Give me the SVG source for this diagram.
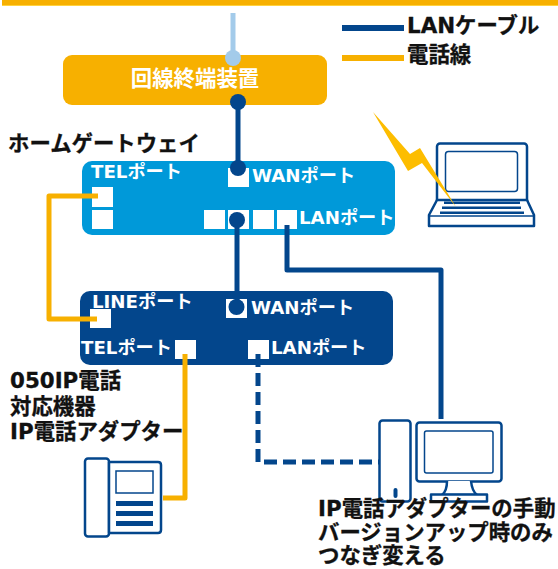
<svg xmlns="http://www.w3.org/2000/svg" width="558" height="569" viewBox="0 0 558 569">
<style>
text{font-family:"DejaVu Sans","Noto Sans CJK JP",sans-serif;font-weight:700}
.k{fill:#111;stroke:#111;stroke-width:.3;font-size:21.4px}
.w{fill:#fff;font-size:18.200px}
.p{fill:#fff}
.nav{fill:none;stroke:#03468c;stroke-width:5;stroke-linejoin:round}
.or{fill:none;stroke:#f7b000;stroke-width:5;stroke-linejoin:round}
.ic{fill:#fff;stroke:#03468c;stroke-width:2.5;stroke-linejoin:round}
.ic2{fill:#fff;stroke:#03468c;stroke-width:1.5}
.bar{fill:#03468c}
</style>
<rect id="top-bar" x="2" y="0" width="556" height="6" fill="#f7b000"/>
<rect x="2" y="5" width="556" height="1" fill="#ffd23f"/>
<g id="onu">
<rect x="63" y="55" width="264" height="50" rx="9" fill="#f7b000"/>
<text class="w" x="195" y="86" text-anchor="middle" style="font-size:21.400px">回線終端装置</text>
</g>
<g id="gateway">
<rect x="82" y="161" width="313" height="74" rx="10" fill="#0099d9"/>
<rect class="p" x="92" y="187" width="21" height="20"/>
<rect class="p" x="92" y="210" width="21" height="19"/>
<rect class="p" x="228" y="168" width="21" height="19"/>
<rect class="p" x="204" y="210" width="21" height="19"/>
<rect class="p" x="228" y="210" width="21" height="19"/>
<rect class="p" x="253" y="210" width="21" height="19"/>
<rect class="p" x="277" y="210" width="20" height="19"/>
<text class="w" x="91" y="178">TELポート</text>
<text class="w" x="252" y="182">WANポート</text>
<text class="w" x="299" y="224">LANポート</text>
</g>
<text id="gateway-label" class="k" x="8" y="151">ホームゲートウェイ</text>
<g id="adapter">
<rect x="80" y="291" width="313" height="74" rx="10" fill="#03468c"/>
<rect class="p" x="90" y="309" width="21" height="19"/>
<rect class="p" x="226" y="299" width="21" height="19"/>
<rect class="p" x="175" y="340" width="21" height="19"/>
<rect class="p" x="248" y="340" width="21" height="19"/>
<text class="w" x="92" y="308">LINEポート</text>
<text class="w" x="251" y="314">WANポート</text>
<text class="w" x="81" y="354">TELポート</text>
<text class="w" x="271" y="354">LANポート</text>
</g>
<g id="adapter-label">
<text class="k" x="10" y="388">050IP電話</text>
<text class="k" x="10" y="414">対応機器</text>
<text class="k" x="10" y="439">IP電話アダプター</text>
</g>
<g id="connectors">
<path d="M233 13V58" fill="none" stroke="#a3cbea" stroke-width="5"/>
<circle cx="233" cy="58" r="8" fill="#a3cbea"/>
<path class="nav" d="M238 102V168"/>
<circle cx="238" cy="102" r="8" fill="#03468c"/>
<circle cx="238" cy="168" r="8" fill="#03468c"/>
<path class="nav" d="M237 220V303"/>
<circle cx="237" cy="220" r="8" fill="#03468c"/>
<circle cx="236.500" cy="307" r="8" fill="#03468c"/>
<path class="or" d="M98 196H49V319H97"/>
<path class="or" d="M185 354V498H163"/>
<path class="nav" d="M287 225V270H441V419"/>
<path class="nav" stroke-dasharray="13 6" d="M258 354V462H379"/>
<path class="nav" d="M342 28H404" style="stroke-width:6"/>
<path class="or" d="M342 58H404" style="stroke-width:6"/>
</g>
<g id="legend">
<text class="k" x="407" y="33">LANケーブル</text>
<text class="k" x="407" y="62">電話線</text>
</g>
<g id="laptop">
<rect class="ic" x="437" y="143.500" width="90" height="60" rx="3"/>
<rect class="ic2" x="445.500" y="151.500" width="72" height="40" rx="3"/>
<path class="ic" d="M437 200H527L534 215V226H429V215Z"/>
<path class="ic2" d="M429 216H534" fill="none"/>
<rect class="bar" x="444" y="201.500" width="76" height="2.500"/>
<rect class="bar" x="442" y="206.500" width="79" height="2.500"/>
<rect class="bar" x="440" y="211.500" width="84" height="2.500"/>
</g>
<polygon id="bolt" points="373,112 410,154 420,148 456,207 422,163 408,171" fill="#fdbd00"/>
<g id="phone">
<rect class="ic" x="85" y="458.500" width="24" height="78" rx="3"/>
<path class="ic" d="M109 462H158Q161 462 161 465V530Q161 533 158 533H109Z"/>
<rect class="ic2" x="116" y="471" width="37" height="22"/>
<rect class="bar" x="116" y="501" width="37" height="5"/>
<rect class="bar" x="116" y="511" width="37" height="5"/>
<rect class="bar" x="116" y="521" width="37" height="5"/>
</g>
<g id="pc">
<rect class="ic" x="379.500" y="420.500" width="31" height="81" rx="3"/>
<rect x="393.500" y="488" width="4" height="10" rx="2" class="bar"/>
<rect class="ic" x="416.500" y="422.500" width="85" height="59" rx="3"/>
<rect class="ic2" x="424.500" y="431" width="68.500" height="42" rx="2"/>
<path class="ic" d="M447 481Q447 491 442 495H477Q472 491 471 481" />
<rect class="ic" x="431" y="494.500" width="56" height="7"/>
</g>
<g id="note">
<text class="k" x="318" y="516">IP電話アダプターの手動</text>
<text class="k" x="318" y="539.500">バージョンアップ時のみ</text>
<text class="k" x="318" y="563">つなぎ変える</text>
</g>
</svg>
